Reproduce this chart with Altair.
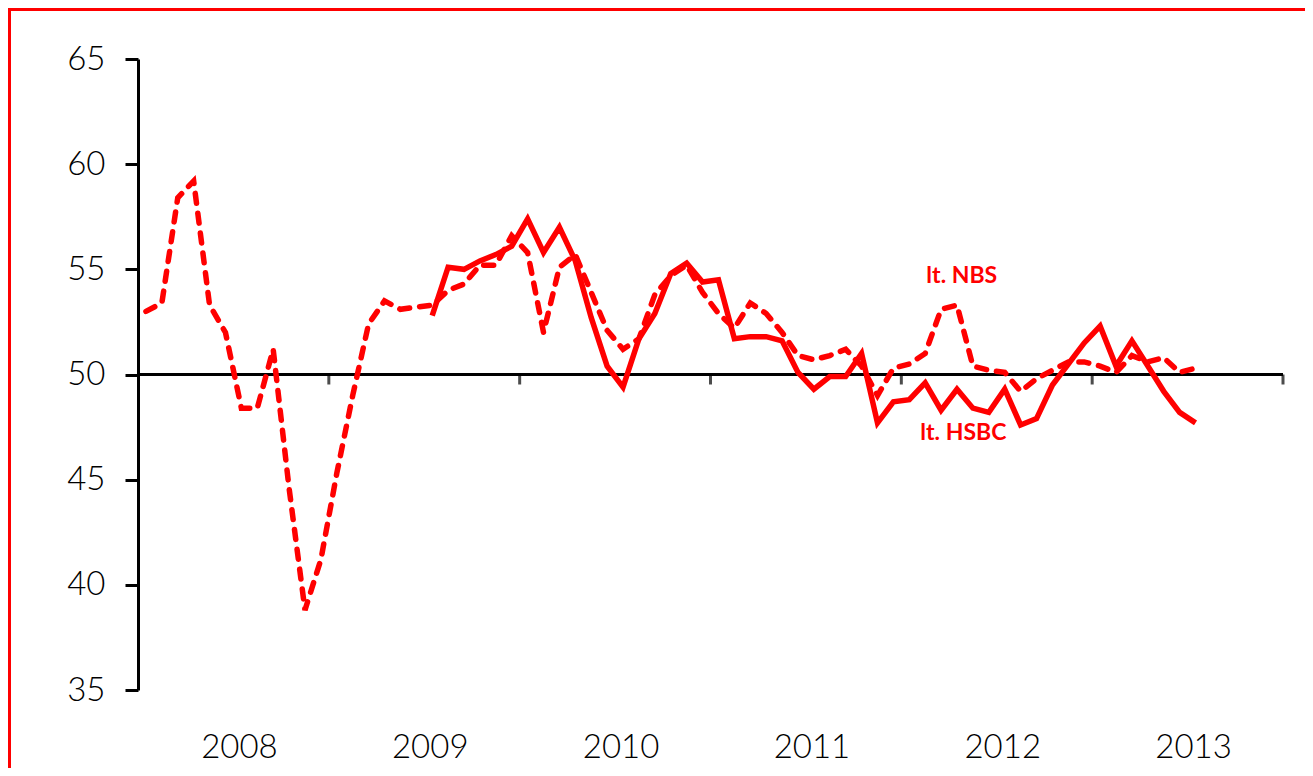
import altair as alt
import pandas as pd

# ---- data ----
years = [2008, 2009, 2010, 2011, 2012, 2013]

# NBS manufacturing PMI, monthly from Jan 2008 (dashed)
nbs = [53.0, 53.4, 58.4, 59.2, 53.3, 52.0, 48.4, 48.4, 51.2, 44.6, 38.8, 41.2,
       45.3, 49.0, 52.4, 53.5, 53.1, 53.2, 53.3, 54.0, 54.3, 55.2, 55.2, 56.6,
       55.8, 52.0, 55.1, 55.7, 53.9, 52.1, 51.2, 51.7, 53.8, 54.7, 55.2, 53.9,
       52.9, 52.2, 53.4, 52.9, 52.0, 50.9, 50.7, 50.9, 51.2, 50.4, 49.0, 50.3,
       50.5, 51.0, 53.1, 53.3, 50.4, 50.2, 50.1, 49.2, 49.8, 50.2, 50.6, 50.6,
       50.4, 50.1, 50.9, 50.6, 50.8, 50.1, 50.3]

# HSBC manufacturing PMI, monthly from Jul 2009 (solid)
hsbc_start = 18
hsbc = [52.8, 55.1, 55.0, 55.4, 55.7, 56.1,
        57.4, 55.8, 57.0, 55.4, 52.7, 50.4, 49.4, 51.7, 52.9, 54.8, 55.3, 54.4,
        54.5, 51.7, 51.8, 51.8, 51.6, 50.1, 49.3, 49.9, 49.9, 51.0, 47.7, 48.7,
        48.8, 49.6, 48.3, 49.3, 48.4, 48.2, 49.3, 47.6, 47.9, 49.5, 50.5, 51.5,
        52.3, 50.4, 51.6, 50.4, 49.2, 48.2, 47.7]

y_ticks = [35, 40, 45, 50, 55, 60, 65]
labels = ["lt. NBS", "lt. HSBC"]
label_x = [51.3, 51.4]
label_y = [54.66, 47.2]

# ---- tables ----
nbs_df = pd.DataFrame({"m": list(range(len(nbs))), "v": nbs})
hsbc_df = pd.DataFrame({"m": list(range(hsbc_start, hsbc_start + len(hsbc))), "v": hsbc})
year_df = pd.DataFrame({"year": years})
lab_df = pd.DataFrame({"label": labels, "m": label_x, "v": label_y})

W, H = 1145, 631
RED = "#FF0000"
FONT = "Lato"

xs = alt.Scale(domain=[-0.5, 71.5], nice=False, zero=False)
ys = alt.Scale(domain=[35, 65], nice=False, zero=False)
yaxis = alt.Axis(values=y_ticks, grid=False, title=None,
                 domainColor="black", domainWidth=3,
                 tickColor="black", tickWidth=3, tickSize=13,
                 labelFont=FONT, labelFontSize=33, labelFontWeight=300,
                 labelColor="black", labelPadding=20)

border = alt.Chart(pd.DataFrame({"a": [0]})).mark_rect(
    fill=None, stroke=RED, strokeWidth=3
).encode(
    x=alt.value(-128.5), x2=alt.value(W + 200),
    y=alt.value(-49.5), y2=alt.value(H + 200)
)

nbs_line = alt.Chart(nbs_df).mark_line(
    color=RED, strokeWidth=5.5, strokeDash=[10, 10], strokeCap="round"
).encode(
    x=alt.X("m:Q", scale=xs, axis=None),
    y=alt.Y("v:Q", scale=ys, axis=yaxis),
)

hsbc_line = alt.Chart(hsbc_df).mark_line(
    color=RED, strokeWidth=5.5
).encode(
    x=alt.X("m:Q", scale=xs, axis=None),
    y=alt.Y("v:Q", scale=ys, axis=yaxis),
)

axis50 = alt.Chart(pd.DataFrame({"a": [0]})).mark_rule(
    color="black", strokeWidth=3
).encode(
    y=alt.datum(50), x=alt.value(0), x2=alt.value(W)
)

ticks = alt.Chart(year_df).transform_calculate(
    b="(datum.year - 2008 + 1) * 12 - 0.5"
).mark_tick(
    orient="vertical", color="black", thickness=3, size=10, yOffset=5
).encode(
    x=alt.X("b:Q", scale=xs, axis=None),
    y=alt.datum(50),
)

year_text = alt.Chart(year_df).transform_calculate(
    c="(datum.year - 2008) * 12 + 5.5"
).mark_text(
    font=FONT, fontSize=33, fontWeight=300, color="black", align="center",
    baseline="alphabetic", dx=6
).encode(
    x=alt.X("c:Q", scale=xs, axis=None),
    y=alt.value(699),
    text="year:N",
)

ann = alt.Chart(lab_df).mark_text(
    font=FONT, fontSize=23, fontWeight="bold", color=RED,
    align="center", baseline="middle"
).encode(
    x=alt.X("m:Q", scale=xs, axis=None),
    y=alt.Y("v:Q", scale=ys, axis=yaxis),
    text="label:N",
)

chart = alt.layer(
    border, axis50, ticks, nbs_line, hsbc_line, year_text, ann
).properties(
    width=W, height=H,
    autosize=alt.AutoSizeParams(type="none"),
    padding={"left": 130, "top": 51, "right": 22, "bottom": 78},
).configure_view(stroke=None)

chart.save("out.html", embed_options={"renderer": "svg", "actions": False})
